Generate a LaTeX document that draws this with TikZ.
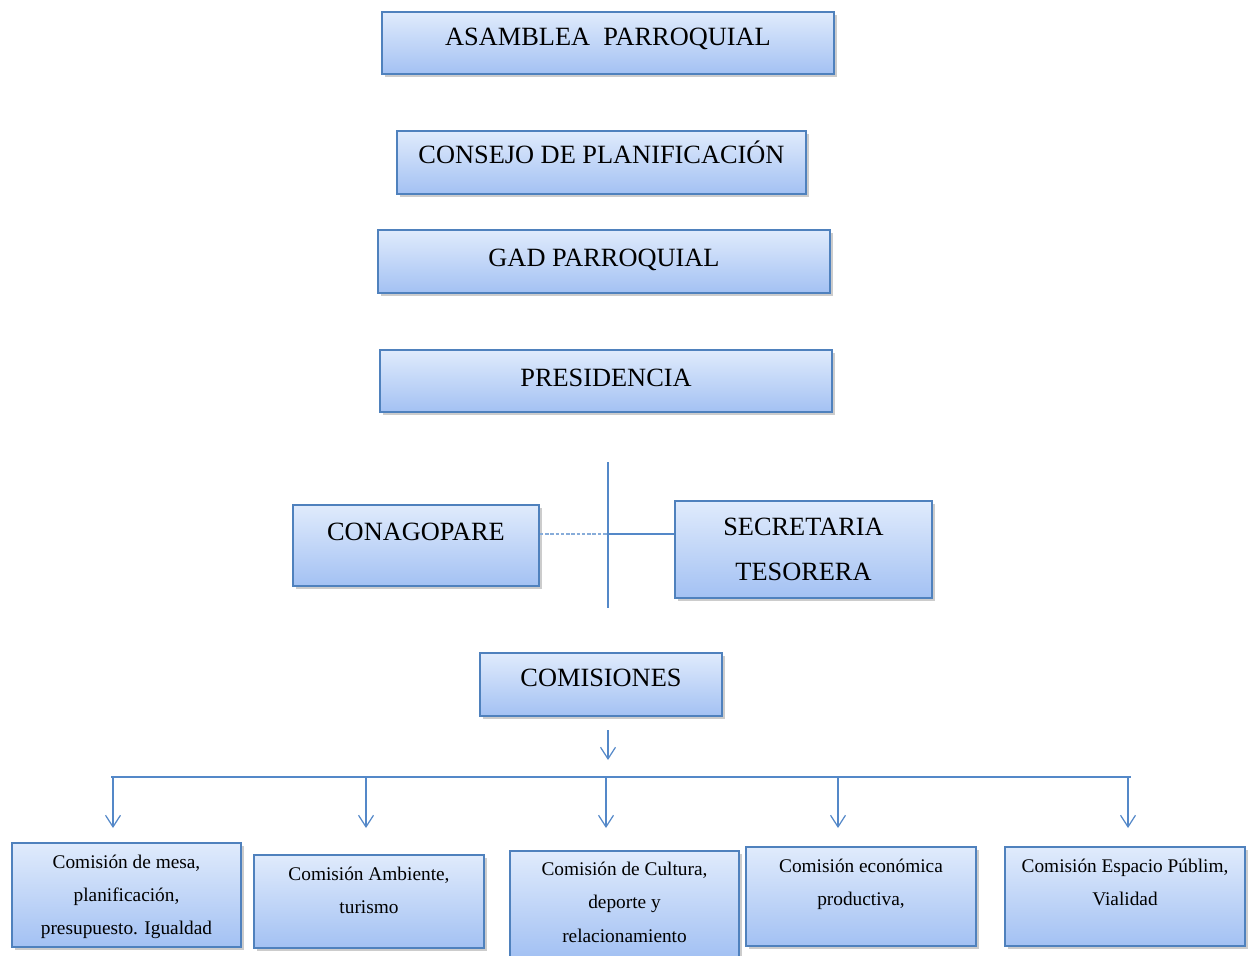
\documentclass[tikz,border=0pt]{standalone}
\usepackage{fontspec}
\setmainfont{Liberation Serif}
\usetikzlibrary{arrows.meta,shadows}
\definecolor{boxtop}{RGB}{224,235,252}
\definecolor{boxbot}{RGB}{163,193,243}
\definecolor{boxline}{RGB}{79,129,189}
\definecolor{wire}{RGB}{84,136,200}

\begin{document}
\begin{tikzpicture}[x=0.02cm,y=-0.02cm,
  box/.style={draw=boxline,line width=0.9pt,top color=boxtop,bottom color=boxbot,
    drop shadow={shadow xshift=1.6pt,shadow yshift=-1.6pt,opacity=0.4},
    inner sep=0pt,align=center,text=black},
  big/.style={box,font=\fontsize{15}{26}\selectfont},
  small/.style={box,font=\fontsize{11}{18.8}\selectfont},
  lift/.style={text height=9.9pt,text depth=#1},
  link/.style={draw=wire,line width=1pt},
  arr/.style={-{Straight Barb[length=6.6pt,width=8.5pt,line width=0.7pt]}}]

  \useasboundingbox (0,0) rectangle (1254,956);

  \node[big,lift=6.5pt,minimum width=9.04cm,minimum height=1.24cm] at (608,43) (asamblea) {ASAMBLEA\ \ PARROQUIAL};
  \node[big,lift=9.3pt,minimum width=8.18cm,minimum height=1.26cm] at (601.5,162.5) (consejo) {CONSEJO DE PLANIFICACIÓN};
  \node[big,lift=4.7pt,minimum width=9.04cm,minimum height=1.26cm] at (604,261.5) (gad) {GAD PARROQUIAL};
  \node[big,lift=3.1pt,minimum width=9.04cm,minimum height=1.24cm] at (606,381) (presidencia) {PRESIDENCIA};

  \node[big,lift=16.1pt,minimum width=4.92cm,minimum height=1.62cm] at (416,545.5) (conagopare) {CONAGOPARE};
  \node[big,minimum width=5.14cm,minimum height=1.94cm] at (803.5,549.5) (secretaria) {SECRETARIA\\TESORERA};
  \node[big,lift=7.1pt,minimum width=4.84cm,minimum height=1.26cm] at (601,684.5) (comisiones) {COMISIONES};

  \coordinate (ctop) at (608,462);
  \coordinate (cbot) at (608,608);
  \coordinate (hub) at (608,534);
  \draw[link] (ctop) -- (cbot);
  \draw[link,line width=1pt,dash pattern=on 2pt off 1pt,draw=wire!70] (conagopare.east |- hub) -- (hub);
  \draw[link] (hub) -- (hub -| secretaria.west);

  \coordinate (cs) at (608,730);
  \coordinate (ce) at (608,760);
  \draw[link,arr] (cs) -- (ce);

  \coordinate (barL) at (111,777);
  \coordinate (barR) at (1131,777);
  \draw[link] (barL) -- (barR);
  \foreach \i/\x in {1/113,2/366,3/606,4/838,5/1128}{
    \coordinate (top\i) at (\x,777);
    \coordinate (tip\i) at (\x,828);
    \draw[link,arr] (top\i) -- (tip\i);
  }

  \node[small,text depth=0pt,minimum width=4.58cm,minimum height=2.08cm] at (126.5,895) (mesa) {Comisión de mesa,\\planificación,\\presupuesto. Igualdad};
  \node[small,text depth=13pt,minimum width=4.6cm,minimum height=1.86cm] at (369,901.5) (ambiente) {Comisión Ambiente,\\turismo};
  \node[small,text depth=2pt,minimum width=4.58cm,minimum height=2.12cm] at (624.5,904) (cultura) {Comisión de Cultura,\\deporte y\\relacionamiento};
  \node[small,text depth=16pt,minimum width=4.6cm,minimum height=1.98cm] at (861,896.5) (economica) {Comisión económica\\productiva,};
  \node[small,text depth=16pt,minimum width=4.8cm,minimum height=1.98cm] at (1125,896.5) (espacio) {Comisión Espacio Públim,\\Vialidad};
\end{tikzpicture}
\end{document}
